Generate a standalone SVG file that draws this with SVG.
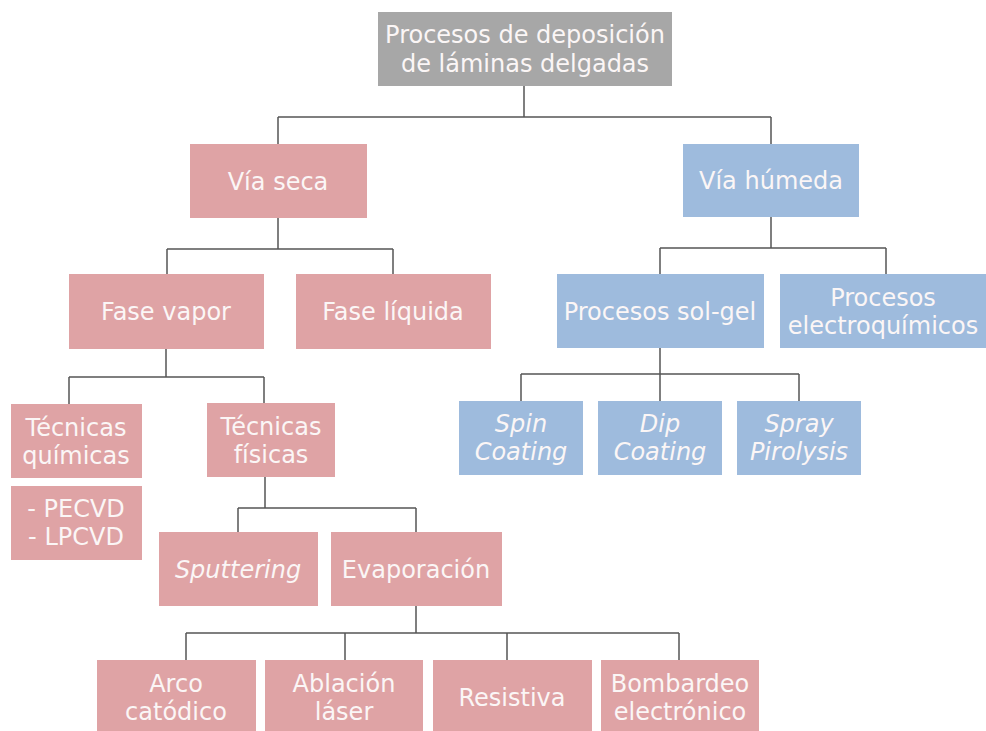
<svg xmlns="http://www.w3.org/2000/svg" width="986" height="731" viewBox="0 0 986 731">
<style>
.p{fill:#DFA3A5}
.b{fill:#9EBBDD}
.g{fill:#A7A7A7}
text{font-family:"DejaVu Sans","Liberation Sans",sans-serif;font-size:24px;fill:#FBF6F6;text-anchor:middle}
.i{font-style:italic}
.c{fill:none;stroke:#555555;stroke-width:1.5}
</style>
<rect width="986" height="731" fill="#FFFFFF"/>
<g id="connectors" class="c">
<path d="M524 86V117M278 117H771M278 117V144M771 117V144"/>
<path d="M278 218V249M167 249H393M167 249V274M393 249V274"/>
<path d="M771 217V248M660 248H886M660 248V274M886 248V274"/>
<path d="M166 349V377M69 377H264M69 377V404M264 377V403"/>
<path d="M660 348V374M521 374H799M521 374V401M660 374V401M799 374V401"/>
<path d="M265 477V508M238 508H416M238 508V532M416 508V532"/>
<path d="M416 606V633M186 633H679M186 633V660M345 633V660M507 633V660M679 633V660"/>
</g>
<g id="n-root"><rect class="g" x="378" y="12" width="294" height="74"/><text x="525" y="43">Procesos de deposición</text><text x="525" y="72">de láminas delgadas</text></g>
<g id="n-viaseca"><rect class="p" x="190" y="144" width="177" height="74"/><text x="278" y="190">Vía seca</text></g>
<g id="n-viahumeda"><rect class="b" x="683" y="144" width="176" height="73"/><text x="771" y="189">Vía húmeda</text></g>
<g id="n-fasevapor"><rect class="p" x="69" y="274" width="195" height="75"/><text x="166" y="320">Fase vapor</text></g>
<g id="n-faseliquida"><rect class="p" x="296" y="274" width="195" height="75"/><text x="393" y="320">Fase líquida</text></g>
<g id="n-solgel"><rect class="b" x="557" y="274" width="207" height="74"/><text x="660" y="320">Procesos sol-gel</text></g>
<g id="n-electro"><rect class="b" x="780" y="274" width="206" height="74"/><text x="883" y="306">Procesos</text><text x="883" y="334">electroquímicos</text></g>
<g id="n-quimicas"><rect class="p" x="11" y="404" width="131" height="74"/><text x="76" y="436">Técnicas</text><text x="76" y="464">químicas</text></g>
<g id="n-cvd"><rect class="p" x="11" y="486" width="131" height="74"/><text x="76" y="517">- PECVD</text><text x="76" y="545">- LPCVD</text></g>
<g id="n-fisicas"><rect class="p" x="207" y="403" width="128" height="74"/><text x="271" y="435">Técnicas</text><text x="271" y="463">físicas</text></g>
<g id="n-spin"><rect class="b" x="459" y="401" width="124" height="74"/><text class="i" x="521" y="432">Spin</text><text class="i" x="521" y="460">Coating</text></g>
<g id="n-dip"><rect class="b" x="598" y="401" width="124" height="74"/><text class="i" x="660" y="432">Dip</text><text class="i" x="660" y="460">Coating</text></g>
<g id="n-spray"><rect class="b" x="737" y="401" width="124" height="74"/><text class="i" x="799" y="432">Spray</text><text class="i" x="799" y="460">Pirolysis</text></g>
<g id="n-sputtering"><rect class="p" x="159" y="532" width="159" height="74"/><text class="i" x="238" y="578">Sputtering</text></g>
<g id="n-evaporacion"><rect class="p" x="331" y="532" width="171" height="74"/><text x="416" y="578">Evaporación</text></g>
<g id="n-arco"><rect class="p" x="97" y="660" width="159" height="74"/><text x="176" y="692">Arco</text><text x="176" y="720">catódico</text></g>
<g id="n-ablacion"><rect class="p" x="265" y="660" width="158" height="74"/><text x="344" y="692">Ablación</text><text x="344" y="720">láser</text></g>
<g id="n-resistiva"><rect class="p" x="433" y="660" width="159" height="74"/><text x="512" y="706">Resistiva</text></g>
<g id="n-bombardeo"><rect class="p" x="601" y="660" width="158" height="74"/><text x="680" y="692">Bombardeo</text><text x="680" y="720">electrónico</text></g>
</svg>
